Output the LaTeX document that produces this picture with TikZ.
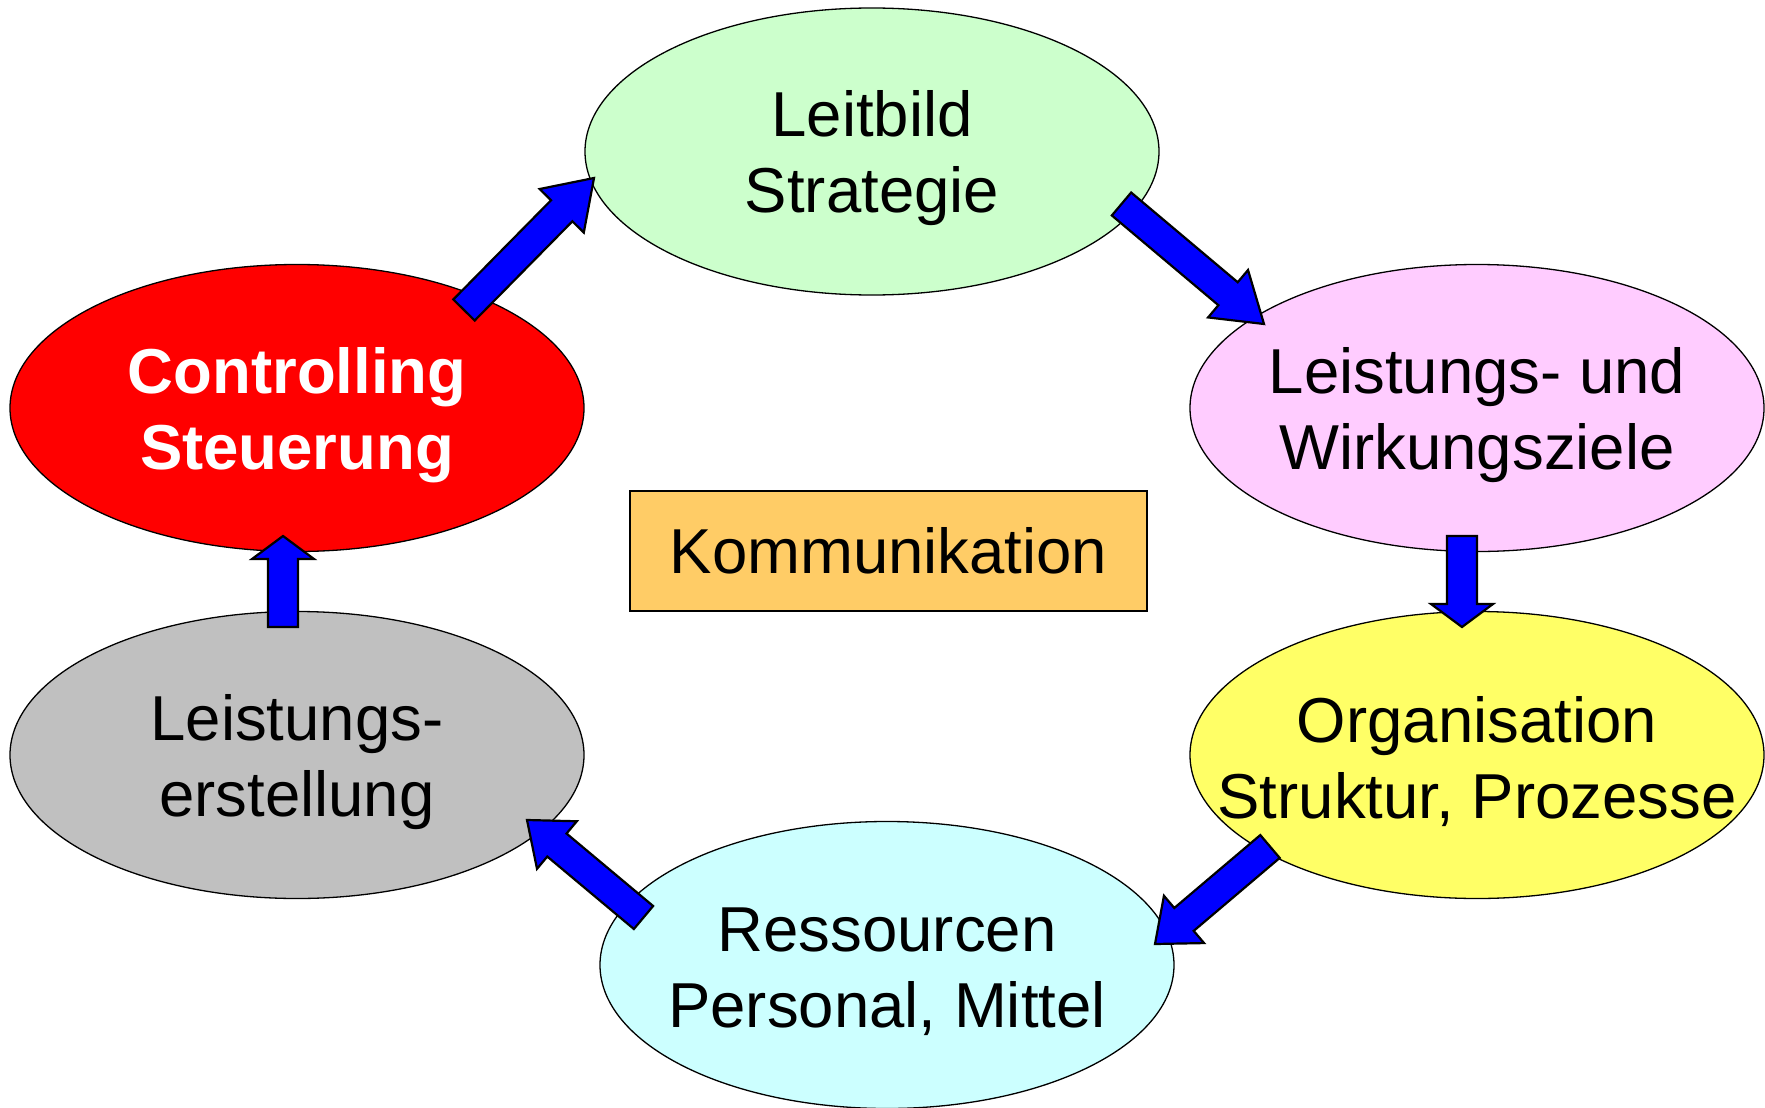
\documentclass[tikz,border=0pt]{standalone}
\usepackage{fontspec}
\setmainfont{Liberation Sans}
\usetikzlibrary{shapes.geometric,calc}
\definecolor{cgreen}{HTML}{CCFFCC}
\definecolor{cpink}{HTML}{FFCCFF}
\definecolor{cyellow}{HTML}{FFFF66}
\definecolor{ccyan}{HTML}{CCFFFF}
\definecolor{cgray}{HTML}{C0C0C0}
\definecolor{cred}{HTML}{FF0000}
\definecolor{corange}{HTML}{FFCC66}
\definecolor{cblue}{HTML}{0000FF}
\newcommand\shaftw{15pt}
\newcommand\headw{31pt}
\newcommand\fatarrow[3]{%
  \path (#1) coordinate (fa-t) (#2) coordinate (fa-h);
  \path ($(fa-h)!#3!(fa-t)$) coordinate (fa-b);
  \draw[fatarr] ($(fa-t)!\shaftw!90:(fa-h)$) -- ($(fa-b)!\shaftw!90:(fa-h)$) -- ($(fa-b)!\headw!90:(fa-h)$) -- (fa-h) -- ($(fa-b)!\headw!-90:(fa-h)$) -- ($(fa-b)!\shaftw!-90:(fa-h)$) -- ($(fa-t)!\shaftw!-90:(fa-h)$) -- cycle;
}
\tikzset{
  bubble/.style={ellipse, draw=black, line width=1.3pt, minimum width=574pt, minimum height=287pt, inner sep=0pt},
  btext/.style={align=center, inner sep=0pt, font=\fontsize{63.5}{76}\selectfont},
  fatarr/.style={draw=black, fill=cblue, line width=2.2pt, line join=miter},
  kombox/.style={rectangle, draw=black, line width=1.8pt, fill=corange, minimum width=517pt, minimum height=120pt, inner sep=0pt, font=\fontsize{63.5}{76}\selectfont}
}
\begin{document}
\begin{tikzpicture}[x=1pt,y=-1pt]
\useasboundingbox (0,0) rectangle (1765,1108);
\node[bubble, fill=cgreen] (leit) at (872,151.5) {};
\node[bubble, fill=cpink] (ziele) at (1477,408) {};
\node[bubble, fill=cyellow] (org) at (1477,755) {};
\node[bubble, fill=ccyan] (res) at (887,965) {};
\node[bubble, fill=cgray] (erst) at (297,755) {};
\node[bubble, fill=cred] (ctrl) at (297,408) {};
\node[btext] (leit-t) at ($(leit.center)+(0,7)$) {Leitbild\\Strategie};
\node[btext] (ziele-t) at ($(ziele.center)+(0,7)$) {Leistungs- und\\Wirkungsziele};
\node[btext] (org-t) at ($(org.center)+(0,7)$) {Organisation\\Struktur, Prozesse};
\node[btext] (res-t) at ($(res.center)+(0,7)$) {Ressourcen\\Personal, Mittel};
\node[btext] (erst-t) at ($(erst.center)+(0,7)$) {Leistungs-\\erstellung};
\node[btext, text=white, font=\fontsize{63.5}{76}\selectfont\bfseries] (ctrl-t) at ($(ctrl.center)+(0,7)$) {Controlling\\Steuerung};
\node[kombox] (kom) at (888.5,551) {Kommunikation};
% arrow end points
\coordinate (a1t) at (464,310);   \coordinate (a1h) at (594,178);
\coordinate (a2t) at (1121.5,204); \coordinate (a2h) at (1264,324);
\coordinate (a3t) at (1462,536);  \coordinate (a3h) at (1462,627);
\coordinate (a4t) at (1270,846.5); \coordinate (a4h) at (1155,944);
\coordinate (a5t) at (643.5,917.5); \coordinate (a5h) at (527,820);
\coordinate (a6t) at (283,627);   \coordinate (a6h) at (283,536);
\fatarrow{a1t}{a1h}{46pt}
\fatarrow{a2t}{a2h}{47pt}
\fatarrow{a3t}{a3h}{23pt}
\fatarrow{a4t}{a4h}{38pt}
\fatarrow{a5t}{a5h}{39pt}
\fatarrow{a6t}{a6h}{23pt}
\end{tikzpicture}
\end{document}
